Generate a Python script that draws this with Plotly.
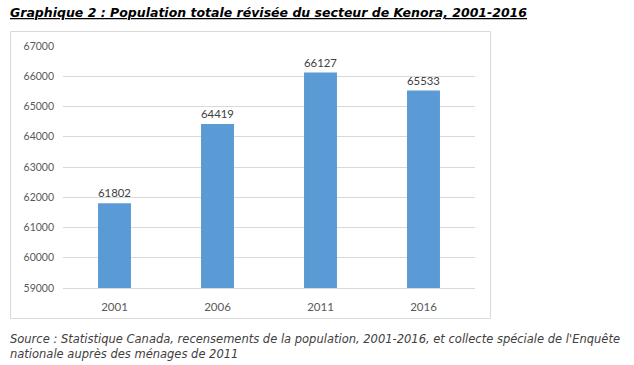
import plotly.graph_objects as go

years = ["2001", "2006", "2011", "2016"]
population = [61802, 64419, 66127, 65533]
y_ticks = [59000, 60000, 61000, 62000, 63000, 64000, 65000, 66000, 67000]
y_tick_labels = [str(v) for v in y_ticks]

W, H = 634, 365
L, R, T, B = 63, 159, 46, 77
pw, ph = W - L - R, H - T - B

def px_x(x):
    return (x - L) / pw

def px_y(y):
    return (H - B - y) / ph

font_fam = "Lato, 'DejaVu Sans', sans-serif"

fig = go.Figure(go.Bar(
    x=years, y=population,
    marker=dict(color="#5B9BD5", line=dict(width=0)),
    text=[str(v) for v in population], textposition="outside",
    textfont=dict(size=12, color="#404040", family=font_fam),
    cliponaxis=False,
))

fig.update_layout(
    width=W, height=H, autosize=False,
    margin=dict(l=L, r=R, t=T, b=B, autoexpand=False),
    paper_bgcolor="white", plot_bgcolor="white",
    bargap=0.68, showlegend=False,
    font=dict(family=font_fam, color="#595959", size=11),
    xaxis=dict(showgrid=False, showline=True, linecolor="#D9D9D9", linewidth=1,
               ticks="", tickfont=dict(size=11.5, color="#595959"), ticklabelstandoff=8),
    yaxis=dict(range=[59000, 67000], tickvals=y_ticks, ticktext=y_tick_labels, showgrid=True,
               gridcolor="#D9D9D9", gridwidth=1, zeroline=False, showline=False,
               ticks="", tickfont=dict(size=10.5, color="#595959"), ticklabelstandoff=8),
    shapes=[dict(type="rect", xref="paper", yref="paper",
                 x0=px_x(10.5), x1=px_x(490.5), y0=px_y(318.5), y1=px_y(31.5),
                 line=dict(color="#D9D9D9", width=1), fillcolor="rgba(0,0,0,0)", layer="below")],
    annotations=[
        dict(text="<b><i><u>Graphique 2 : Population totale révisée du secteur de Kenora, 2001-2016</u></i></b>",
             xref="paper", yref="paper", x=px_x(8), y=px_y(12), xanchor="left", yanchor="middle",
             showarrow=False, font=dict(size=12.5, color="#000000", family="'DejaVu Sans', sans-serif")),
        dict(text="<i>Source : Statistique Canada, recensements de la population, 2001-2016, et collecte spéciale de l'Enquête<br>nationale auprès des ménages de 2011</i>",
             xref="paper", yref="paper", x=px_x(8), y=px_y(346), xanchor="left", yanchor="middle",
             align="left", showarrow=False,
             font=dict(size=11.5, color="#404040", family="'DejaVu Sans', sans-serif")),
    ],
)

fig.write_html("out.html", config={"displayModeBar": False},
               post_script="document.body.style.margin='0';document.body.style.padding='0';")
